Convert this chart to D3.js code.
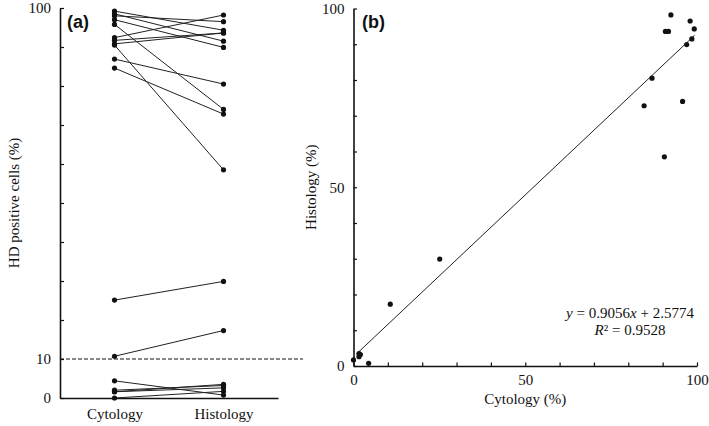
<!DOCTYPE html>
<html>
<head>
<meta charset="utf-8">
<script src="https://cdn.jsdelivr.net/npm/d3@7"></script>
<style>
  body { margin: 0; background: #fff; }
  svg { display: block; }
  text { font-family: "Liberation Serif", "Times New Roman", serif; fill: #111; }
</style>
</head>
<body>
<svg id="chart" width="709" height="426"></svg>
<script>
// ---- data ----
const groups = ["Cytology", "Histology"];
const cytology  = [99.2, 98.5, 98.0, 97.0, 95.8, 92.4, 91.7, 90.8, 90.5, 86.9, 84.6, 25.1, 10.7, 1.6, 2.0, 1.6, 0.0, 4.4];
const histology = [94.3, 91.5, 96.5, 89.9, 74.0, 98.2, 93.6, 93.6, 58.5, 80.5, 72.8, 29.9, 17.3, 3.5, 3.2, 2.6, 1.7, 0.75];
const yTicksA = [0, 10, 20, 30, 40, 50, 60, 70, 80, 90, 100];
const yTickLabelsA = [0, 10, 100];
const ticksB = [0, 10, 20, 30, 40, 50, 60, 70, 80, 90, 100];
const tickLabelsB = [0, 50, 100];
const thresholdA = 10;
const slope = 0.9056, intercept = 2.5774, r2 = 0.9528;
const fitRange = [0.9, 99.3];

const svg = d3.select("#chart");
const ink = "#111";

// ================= Panel (a) =================
const yA = d3.scaleLinear().domain([0, 100]).range([398, 8]);
const xA = d3.scalePoint().domain(groups).range([60, 278]).padding(0.5);

const gA = svg.append("g");

const axisYA = d3.axisLeft(yA).tickValues(yTicksA).tickSizeInner(-4).tickSizeOuter(0).tickPadding(9)
  .tickFormat(d => yTickLabelsA.includes(d) ? d : "");
gA.append("g").attr("transform", "translate(60,0)").call(axisYA);

const axisXA = d3.axisBottom(xA).tickSize(0).tickPadding(10);
gA.append("g").attr("transform", "translate(0,398)").call(axisXA);

// dashed threshold
gA.append("line")
  .attr("x1", 60).attr("x2", 303)
  .attr("y1", yA(thresholdA)).attr("y2", yA(thresholdA))
  .attr("stroke", ink).attr("stroke-width", 1.1).attr("stroke-dasharray", "4,2");

const pairs = cytology.map((c, i) => ({ c, h: histology[i] }));
gA.selectAll("line.pair").data(pairs).join("line")
  .attr("class", "pair")
  .attr("x1", xA("Cytology")).attr("x2", xA("Histology"))
  .attr("y1", d => yA(d.c)).attr("y2", d => yA(d.h))
  .attr("stroke", "#222").attr("stroke-width", 1);
gA.selectAll("circle.c").data(pairs).join("circle")
  .attr("class", "c").attr("cx", xA("Cytology")).attr("cy", d => yA(d.c)).attr("r", 2.6).attr("fill", ink);
gA.selectAll("circle.h").data(pairs).join("circle")
  .attr("class", "h").attr("cx", xA("Histology")).attr("cy", d => yA(d.h)).attr("r", 2.6).attr("fill", ink);

gA.append("text")
  .attr("transform", "translate(19,203) rotate(-90)")
  .attr("text-anchor", "middle").style("font-size", "15px")
  .text("HD positive cells (%)");

gA.append("text").attr("x", 67).attr("y", 28)
  .style("font-family", "'Liberation Sans', Arial, sans-serif").style("font-weight", "bold").style("font-size", "18px")
  .text("(a)");

// ================= Panel (b) =================
const xB = d3.scaleLinear().domain([0, 100]).range([353.5, 697]);
const yB = d3.scaleLinear().domain([0, 100]).range([366, 8.5]);
const gB = svg.append("g");

const axisYB = d3.axisLeft(yB).tickValues(ticksB).tickSizeInner(-3.5).tickSizeOuter(0).tickPadding(9)
  .tickFormat(d => tickLabelsB.includes(d) ? d : "");
gB.append("g").attr("transform", `translate(${xB(0)},0)`).call(axisYB);
const axisXB = d3.axisBottom(xB).tickValues(ticksB).tickSizeInner(-3.5).tickSizeOuter(0).tickPadding(8)
  .tickFormat(d => tickLabelsB.includes(d) ? d : "");
gB.append("g").attr("transform", `translate(0,${yB(0)})`).call(axisXB);

gB.append("line")
  .attr("x1", xB(fitRange[0])).attr("y1", yB(slope * fitRange[0] + intercept))
  .attr("x2", xB(fitRange[1])).attr("y2", yB(slope * fitRange[1] + intercept))
  .attr("stroke", "#222").attr("stroke-width", 1);

gB.selectAll("circle.p").data(pairs).join("circle")
  .attr("class", "p").attr("cx", d => xB(d.c)).attr("cy", d => yB(d.h)).attr("r", 2.6).attr("fill", ink);

gB.append("text")
  .attr("transform", `translate(316,${(yB(0) + yB(100)) / 2}) rotate(-90)`)
  .attr("text-anchor", "middle").style("font-size", "15px")
  .text("Histology (%)");
gB.append("text").attr("x", (xB(0) + xB(100)) / 2).attr("y", 404)
  .attr("text-anchor", "middle").style("font-size", "15px")
  .text("Cytology (%)");

gB.append("text").attr("x", 362).attr("y", 28)
  .style("font-family", "'Liberation Sans', Arial, sans-serif").style("font-weight", "bold").style("font-size", "18px")
  .text("(b)");

const eq = gB.append("text").attr("x", 630).attr("y", 318).attr("text-anchor", "middle").style("font-size", "15px");
eq.append("tspan").style("font-style", "italic").text("y");
eq.append("tspan").text(` = ${slope}`);
eq.append("tspan").style("font-style", "italic").text("x");
eq.append("tspan").text(` + ${intercept}`);
const rt = gB.append("text").attr("x", 630).attr("y", 335).attr("text-anchor", "middle").style("font-size", "15px");
rt.append("tspan").style("font-style", "italic").text("R");
rt.append("tspan").text(`² = ${r2}`);

// axis styling
svg.selectAll(".domain").attr("stroke", ink).attr("stroke-width", 1.6);
svg.selectAll(".tick line").attr("stroke", ink).attr("stroke-width", 1.2);
svg.selectAll(".tick text").style("font-family", "'Liberation Serif', 'Times New Roman', serif").style("font-size", "15px").attr("fill", ink);
</script>
</body>
</html>
